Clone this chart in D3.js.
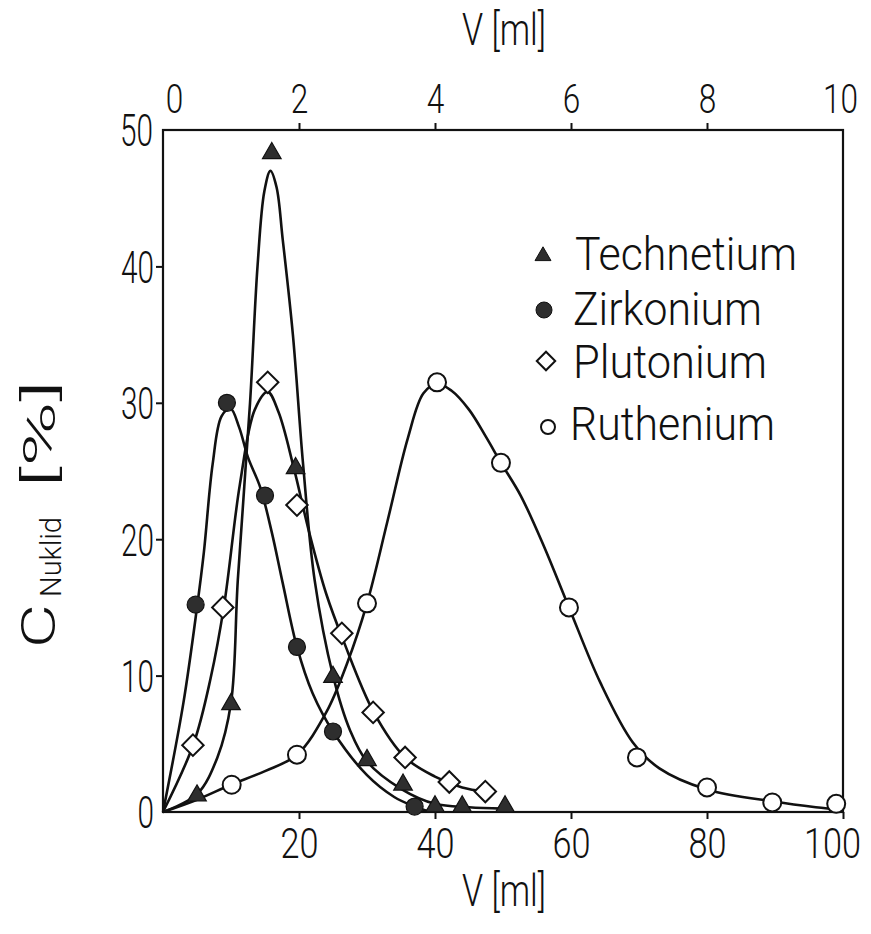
<!DOCTYPE html>
<html>
<head>
<meta charset="utf-8">
<script src="https://cdn.jsdelivr.net/npm/d3@7/dist/d3.min.js"></script>
<style>
  html, body { margin: 0; padding: 0; background: #fff; }
  svg { display: block; }
  text { font-family: Roboto, "DejaVu Sans", sans-serif; font-weight: 300; fill: #111; }
</style>
</head>
<body>
<svg id="chart" width="871" height="934"></svg>
<script>
// Elution volume (ml) and nuclide concentration (%) for each measured fraction
const seriesNames = ["Technetium", "Zirkonium", "Plutonium", "Ruthenium"];

const tcV = [5, 10, 16, 19.5, 25, 30, 35.3, 40, 44, 50.3];
const tcC = [1.2, 7.9, 48.3, 25.2, 9.9, 3.8, 2.0, 0.4, 0.4, 0.4];

const zrV = [4.8, 9.4, 15, 19.7, 25, 37];
const zrC = [15.2, 30.0, 23.2, 12.1, 5.9, 0.4];

const puV = [4.4, 8.8, 15.4, 19.7, 26.3, 30.9, 35.6, 42.1, 47.4];
const puC = [4.9, 15.0, 31.5, 22.5, 13.1, 7.3, 4.0, 2.2, 1.5];

const ruV = [10.1, 19.7, 30, 40.3, 49.7, 59.7, 69.7, 80, 89.6, 99];
const ruC = [2.0, 4.2, 15.3, 31.5, 25.6, 15.0, 4.0, 1.8, 0.7, 0.6];

// Hand-fitted elution curves drawn through the measurements
const tcFit = [[0,0],[5,1.3],[8,4],[10,8],[11,17],[12.8,30],[13.9,40],[14.9,45.5],[15.8,47],[16.7,45.8],[17.6,42],[19.1,35],[20.6,25.5],[22.3,17],[25,10],[27.5,6],[30,3.7],[35,1.7],[40,0.6],[45,0.35],[50,0.25]];
const zrFit = [[0,0],[3,8],[5,15],[6,19],[7.3,25.5],[8.6,29],[9.9,29.6],[11.2,28.2],[12.5,26],[14.3,23.8],[16,20.5],[17.6,16.8],[19.7,12.1],[22,8.7],[25,5.9],[30,2.7],[34,1.1],[37,0.4],[39,0.05]];
const puFit = [[0,0],[4.5,5],[7,9.8],[9,15.2],[11.3,24],[13.5,29.5],[15.4,30.8],[17,29.3],[19.2,25.3],[21.5,20.5],[24,16],[26.5,12.6],[31,7.3],[35.6,4],[40,2.6],[44,1.8],[47.4,1.5]];
const ruFit = [[0,0],[5,0.9],[10,2],[15,3],[19.7,4.2],[24,7.3],[27,10.8],[30,15.3],[33,21.3],[36,27.4],[38.3,30.7],[40.3,31.4],[42.4,30.9],[45,29.5],[47.5,27.5],[49.7,25.6],[52.6,23.2],[56,19.5],[59.7,15],[64.3,9.5],[69.1,5.1],[73,3.2],[80,1.65],[90,0.75],[96,0.35],[100,0.15]];

// Axis ticks
const xTicksBottom = [20, 40, 60, 80, 100];
const xTicksTop = [0, 2, 4, 6, 8, 10];
const yTicks = [0, 10, 20, 30, 40, 50];

const svg = d3.select("#chart");

const x = d3.scaleLinear().domain([0, 100]).range([163, 843]);
const xTop = d3.scaleLinear().domain([0, 10]).range([163, 843]);
const y = d3.scaleLinear().domain([0, 50]).range([812, 130]);

const ink = "#111";
const fillDark = "#2e2e2e";

// Frame
svg.append("rect")
  .attr("x", x(0)).attr("y", y(50))
  .attr("width", x(100) - x(0)).attr("height", y(0) - y(50))
  .attr("fill", "none").attr("stroke", ink).attr("stroke-width", 2.2);

// Bottom axis
const gB = svg.append("g").attr("transform", `translate(0,${y(0)})`)
  .call(d3.axisBottom(x).tickValues(xTicksBottom).tickSize(7).tickSizeOuter(0).tickPadding(10));
gB.select(".domain").remove();
gB.selectAll(".tick line").attr("stroke", ink).attr("stroke-width", 2);
gB.selectAll(".tick text")
  .attr("font-size", 42).attr("fill", ink).attr("dy", null).attr("y", 46)
  .attr("dx", d => d === 100 ? -11 : 0)
  .attr("textLength", d => String(d).length * 19)
  .attr("lengthAdjust", "spacingAndGlyphs");

// Top axis (same volume in the alternate unit)
const gT = svg.append("g").attr("transform", `translate(0,${y(50)})`)
  .call(d3.axisTop(xTop).tickValues(xTicksTop).tickSize(7).tickSizeOuter(0).tickPadding(10));
gT.select(".domain").remove();
gT.selectAll(".tick line").attr("stroke", ink).attr("stroke-width", 2).filter(d => d === 0 || d === 10).remove();
gT.selectAll(".tick text")
  .attr("font-size", 40).attr("fill", ink).attr("y", -17)
  .attr("dx", d => d === 0 ? 11 : (d === 10 ? -3 : 0))
  .attr("textLength", d => String(d).length * 17.5)
  .attr("lengthAdjust", "spacingAndGlyphs");

// Left axis
const gL = svg.append("g").attr("transform", `translate(${x(0)},0)`)
  .call(d3.axisLeft(y).tickValues(yTicks).tickSize(7).tickSizeOuter(0).tickPadding(10));
gL.select(".domain").remove();
gL.selectAll(".tick line").attr("stroke", ink).attr("stroke-width", 2).filter(d => d === 0 || d === 50).remove();
gL.selectAll(".tick text")
  .attr("font-size", 44).attr("fill", ink).attr("x", d => d === 50 ? -10 : -9).attr("dy", "0.36em")
  .attr("textLength", d => String(d).length * 16.5)
  .attr("lengthAdjust", "spacingAndGlyphs");

// Axis titles
svg.append("text").text("V [ml]")
  .attr("x", 462).attr("y", 906).attr("font-size", 44)
  .attr("textLength", 84).attr("lengthAdjust", "spacingAndGlyphs");
svg.append("text").text("V [ml]")
  .attr("x", 462).attr("y", 45).attr("font-size", 44)
  .attr("textLength", 84).attr("lengthAdjust", "spacingAndGlyphs");

svg.append("text").text("C")
  .attr("transform", "translate(55,648) rotate(-90)")
  .attr("font-size", 48).attr("textLength", 44).attr("lengthAdjust", "spacingAndGlyphs");
svg.append("text").text("Nuklid")
  .attr("transform", "translate(61,597) rotate(-90)")
  .attr("font-size", 30).attr("textLength", 80).attr("lengthAdjust", "spacingAndGlyphs");
svg.append("text").text("[%]")
  .attr("transform", "translate(55,488) rotate(-90)")
  .attr("font-size", 44).attr("textLength", 108).attr("lengthAdjust", "spacingAndGlyphs");

// Curves
const line = d3.line()
  .x(d => x(d[0])).y(d => y(d[1]))
  .curve(d3.curveCatmullRom.alpha(0.5));

[tcFit, zrFit, puFit, ruFit].forEach(fit => {
  svg.append("path").datum(fit)
    .attr("d", line)
    .attr("fill", "none").attr("stroke", ink).attr("stroke-width", 2.6)
    .attr("stroke-linejoin", "round");
});

// Markers
const triPath = d3.symbol().type(d3.symbolTriangle).size(150)();
const diaPath = d3.symbol().type(d3.symbolSquare).size(230)();

function zipPts(vs, cs) { return vs.map((v, i) => [v, cs[i]]); }

svg.append("g").selectAll("path").data(zipPts(tcV, tcC)).join("path")
  .attr("d", triPath)
  .attr("transform", d => `translate(${x(d[0])},${y(d[1])})`)
  .attr("fill", fillDark).attr("stroke", ink).attr("stroke-width", 1.2);

svg.append("g").selectAll("circle").data(zipPts(zrV, zrC)).join("circle")
  .attr("cx", d => x(d[0])).attr("cy", d => y(d[1])).attr("r", 8.5)
  .attr("fill", fillDark).attr("stroke", ink).attr("stroke-width", 1.2);

svg.append("g").selectAll("path").data(zipPts(puV, puC)).join("path")
  .attr("d", diaPath)
  .attr("transform", d => `translate(${x(d[0])},${y(d[1])}) rotate(45)`)
  .attr("fill", "#fff").attr("stroke", ink).attr("stroke-width", 2);

svg.append("g").selectAll("circle").data(zipPts(ruV, ruC)).join("circle")
  .attr("cx", d => x(d[0])).attr("cy", d => y(d[1])).attr("r", 9)
  .attr("fill", "#fff").attr("stroke", ink).attr("stroke-width", 2);

// Legend
const legendRows = [
  { name: seriesNames[0], mx: 543, my: 256, tx: 575, ty: 270, len: 222 },
  { name: seriesNames[1], mx: 544, my: 310, tx: 573, ty: 325, len: 189 },
  { name: seriesNames[2], mx: 546, my: 361, tx: 573, ty: 378, len: 194 },
  { name: seriesNames[3], mx: 548, my: 427, tx: 570, ty: 440, len: 205 }
];
const lg = svg.append("g");
lg.append("path").attr("d", d3.symbol().type(d3.symbolTriangle).size(110)())
  .attr("transform", `translate(${legendRows[0].mx},${legendRows[0].my})`)
  .attr("fill", fillDark).attr("stroke", ink).attr("stroke-width", 1);
lg.append("circle").attr("cx", legendRows[1].mx).attr("cy", legendRows[1].my).attr("r", 8)
  .attr("fill", fillDark).attr("stroke", ink).attr("stroke-width", 1);
lg.append("path").attr("d", d3.symbol().type(d3.symbolSquare).size(170)())
  .attr("transform", `translate(${legendRows[2].mx},${legendRows[2].my}) rotate(45)`)
  .attr("fill", "#fff").attr("stroke", ink).attr("stroke-width", 2);
lg.append("circle").attr("cx", legendRows[3].mx).attr("cy", legendRows[3].my).attr("r", 7)
  .attr("fill", "#fff").attr("stroke", ink).attr("stroke-width", 2);
lg.selectAll("text").data(legendRows).join("text")
  .text(d => d.name)
  .attr("x", d => d.tx).attr("y", d => d.ty)
  .attr("font-size", 46)
  .attr("textLength", d => d.len).attr("lengthAdjust", "spacingAndGlyphs");
</script>
</body>
</html>
